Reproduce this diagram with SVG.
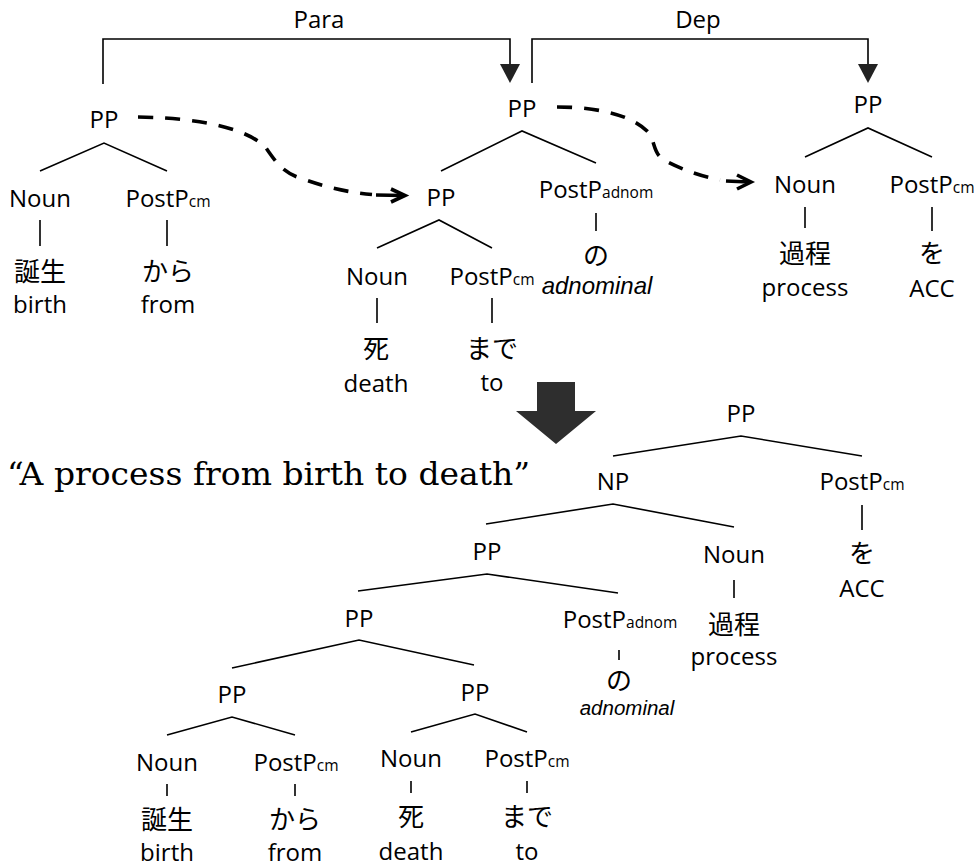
<svg xmlns="http://www.w3.org/2000/svg" width="979" height="868" viewBox="0 0 979 868">
<style>
text{font-family:"Open Sans","Noto Sans CJK JP",sans-serif;font-size:24px;fill:#000;text-anchor:middle}
.jp{font-family:"Noto Sans CJK JP",sans-serif;font-size:26px}
.sub{font-size:15.5px}
.it{font-family:"Liberation Sans",Arial,sans-serif;font-style:italic;font-size:24px}
.it2{font-family:"Liberation Sans",Arial,sans-serif;font-style:italic;font-size:20.5px}
.quote{font-family:"DejaVu Serif",serif;font-size:31px;text-anchor:start}
.e{stroke:#000;stroke-width:1.6;fill:none}
.dash{stroke:#000;stroke-width:3.6;fill:none;stroke-dasharray:15 12}
.chev{stroke:#000;stroke-width:3.6;fill:none;stroke-linejoin:miter}
.tri{fill:#222}
</style>
<g id="connectors">
<polyline class="e" points="103,84 103,39 510,39 510,65"/>
<polygon class="tri" points="500,64 520,64 510,83"/>
<polyline class="e" points="532,83 532,39 868,39 868,65"/>
<polygon class="tri" points="858,64 878,64 868,83"/>
<path class="dash" d="M138,117 C205,118 250,130 266,148 C276,162 282,172 300,178 C325,187 345,192 372,194.5"/>
<line class="chev" x1="376" y1="195" x2="403" y2="195.5"/>
<polyline class="chev" points="391,189 405,195.5 391,202"/>
<path class="dash" d="M557,107 C605,107 635,118 648,132 C656,142 652,152 664,160 C684,171 705,177 720,180"/>
<line class="chev" x1="726" y1="181" x2="749" y2="182"/>
<polyline class="chev" points="737,175 751,182 737,189"/>
<polygon fill="#2e2e2e" points="537,382 575,382 575,411 596,411 556,444 516,411 537,411"/>
</g>
<g id="labels">
<text x="319" y="28">Para</text>
<text x="698" y="28">Dep</text>
</g>
<g id="tree1">
<text x="104" y="128">PP</text>
<path class="e" d="M40,171 L104,143 L167,171 M40,220 V246 M167,220 V246"/>
<text x="40" y="207">Noun</text>
<text x="168" y="207">PostP<tspan class="sub">cm</tspan></text>
<text class="jp" x="40" y="281">誕生</text>
<text x="40" y="313">birth</text>
<text class="jp" x="168" y="281">から</text>
<text x="168" y="313">from</text>
</g>
<g id="tree2">
<text x="522" y="117">PP</text>
<path class="e" d="M441,171 L522,131 L596,163 M596,213 V231 M377,248 L439,220 L492,248 M377,298 V323 M492,298 V323"/>
<text x="441" y="206">PP</text>
<text x="596" y="198">PostP<tspan class="sub">adnom</tspan></text>
<text class="jp" x="596" y="265">の</text>
<text class="it" x="597" y="294">adnominal</text>
<text x="377" y="285">Noun</text>
<text x="492" y="285">PostP<tspan class="sub">cm</tspan></text>
<text class="jp" x="376" y="358">死</text>
<text x="376" y="392">death</text>
<text class="jp" x="492" y="358">まで</text>
<text x="492" y="391">to</text>
</g>
<g id="tree3">
<text x="868" y="113">PP</text>
<path class="e" d="M805,157 L868,128 L932,157 M805,207 V228 M932,207 V231"/>
<text x="805" y="193">Noun</text>
<text x="932" y="193">PostP<tspan class="sub">cm</tspan></text>
<text class="jp" x="805" y="263">過程</text>
<text x="805" y="296">process</text>
<text class="jp" x="932" y="263">を</text>
<text x="932" y="297">ACC</text>
</g>
<g id="quote">
<text class="quote" x="7" y="485" textLength="523" lengthAdjust="spacingAndGlyphs">“A process from birth to death”</text>
</g>
<g id="tree4">
<text x="741" y="422">PP</text>
<path class="e" d="M613,456 L741,436 L862,456 M862,505 V530"/>
<text x="613" y="490">NP</text>
<text x="862" y="490">PostP<tspan class="sub">cm</tspan></text>
<text class="jp" x="862" y="563">を</text>
<text x="862" y="597">ACC</text>
<path class="e" d="M486,524 L613,504 L734,527 M734,580 V598"/>
<text x="734" y="563">Noun</text>
<text class="jp" x="734" y="634">過程</text>
<text x="734" y="665">process</text>
<text x="487" y="560">PP</text>
<path class="e" d="M358,591 L487,574 L618,593 M619,650 V660"/>
<text x="620" y="628">PostP<tspan class="sub">adnom</tspan></text>
<text class="jp" x="619" y="690">の</text>
<text class="it2" x="627" y="715">adnominal</text>
<text x="359" y="627">PP</text>
<path class="e" d="M232,668 L359,640 L474,665"/>
<text x="232" y="703">PP</text>
<path class="e" d="M167,735 L232,717 L295,735 M167,784 V796 M295,784 V796"/>
<text x="475" y="701">PP</text>
<path class="e" d="M411,732 L475,714 L527,732 M411,781 V793 M527,781 V793"/>
<text x="167" y="771">Noun</text>
<text x="296" y="771">PostP<tspan class="sub">cm</tspan></text>
<text x="411" y="767">Noun</text>
<text x="527" y="767">PostP<tspan class="sub">cm</tspan></text>
<text class="jp" x="167" y="829">誕生</text>
<text x="167" y="861">birth</text>
<text class="jp" x="295" y="829">から</text>
<text x="295" y="861">from</text>
<text class="jp" x="411" y="826">死</text>
<text x="411" y="860">death</text>
<text class="jp" x="527" y="826">まで</text>
<text x="527" y="860">to</text>
</g>
</svg>
